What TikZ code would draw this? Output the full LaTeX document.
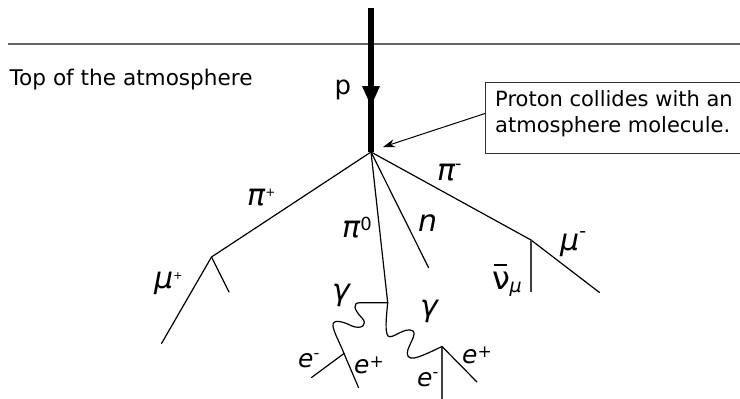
\documentclass[tikz,border=0pt]{standalone}
\usepackage{fontspec}
\setmainfont{DejaVu Sans}
\usetikzlibrary{arrows.meta}
\newcommand\upsc[3]{\raisebox{#1}{\fontsize{#2}{#2}\selectfont\upshape #3}}
\begin{document}
\begin{tikzpicture}[x=1pt,y=-1pt,
  track/.style={line width=1.2pt,line cap=round,line join=round},
  thin track/.style={line width=1.1pt,black!75},
  lbl/.style={inner sep=0pt,anchor=base west,font=\fontsize{30}{30}\selectfont\itshape},
  elab/.style={inner sep=0pt,anchor=base west,font=\fontsize{25}{25}\selectfont\itshape},
  txt/.style={inner sep=0pt,anchor=base west,font=\fontsize{21}{25}\selectfont}]
\useasboundingbox (0,0) rectangle (740,399);
% coordinates
\coordinate (hl) at (8,44);
\coordinate (hr) at (740,44);
\coordinate (ptop) at (371,8);
\coordinate (vtx) at (371,152);
\coordinate (vpp) at (211.5,257);
\coordinate (mup) at (161.5,343.5);
\coordinate (nup) at (229,292);
\coordinate (vp0) at (387.7,302.7);
\coordinate (nend) at (428.5,267.5);
\coordinate (vpm) at (531,240);
\coordinate (mum) at (599.5,292.5);
\coordinate (num) at (531,292);
\coordinate (gl) at (344,353.5);
\coordinate (gr) at (442,346.5);
\coordinate (elm) at (311.5,377.5);
\coordinate (elp) at (358.5,387.5);
\coordinate (erm) at (442,400);
\coordinate (erp) at (477,382);
\coordinate (hit) at (383,147);
% atmosphere line
\draw[line width=1.2pt,black!60] (hl) -- (hr);
\node[txt,font=\fontsize{21.6}{25}\selectfont] (top) at (9.5,85) {Top of the atmosphere};
% proton
\draw[line width=6.5pt] (ptop) -- (vtx);
\fill (362,86) -- (380,86) -- (371,106) -- cycle;
\node[inner sep=0pt,anchor=base west,font=\fontsize{26}{26}\selectfont] (p) at (334.5,94) {p};
% callout
\node[draw,line width=1pt,black!80,minimum width=258pt,minimum height=71pt,anchor=north west,inner sep=0pt] (box) at (485,82) {};
\node[txt] (t1) at (495,106.7) {Proton collides with an};
\node[txt] (t2) at (495,132.7) {atmosphere molecule.};
\draw[line width=1pt,-{Stealth[length=12pt,width=8pt]}] ([yshift=4.5pt]box.west) -- (hit);
% tracks
\draw[track] (vtx) -- (vpp) -- (mup);
\draw[track] (vpp) -- (nup);
\draw[track] (vtx) -- (vp0);
\draw[track] (vtx) -- (nend);
\draw[track] (vtx) -- (vpm) -- (mum);
\draw[thin track] (vpm) -- (num);
% photons
\draw[track] (vp0) -- (360,302.7) .. controls (352,302.7) and (354,310) .. (362,318)
  .. controls (368,324) and (362,330) .. (352,326)
  .. controls (344,322) and (332,318) .. (333,326)
  .. controls (334,333) and (340,343) .. (gl);
\draw[track] (vp0) .. controls (386,320) and (385,332) .. (388,336)
  .. controls (392,340) and (405,326) .. (413,331)
  .. controls (418,335) and (404,350) .. (408,356)
  .. controls (411,361) and (420,357) .. (gr);
% pairs
\draw[track] (gl) -- (elm);
\draw[track] (gl) -- (elp);
\draw[thin track] (gr) -- (erm);
\draw[track] (gr) -- (erp);
% labels
\node[lbl] (lpip) at (247,205) {π\upsc{8.5pt}{12}{+}};
\node[lbl] (lpi0) at (342,237.3) {π\upsc{7pt}{18}{0}};
\node[lbl] (ln) at (418,231.7) {n};
\node[lbl] (lpim) at (437,180) {π\upsc{11pt}{17}{-}};
\node[lbl] (lmup) at (154,288) {μ\upsc{9pt}{11}{+}};
\node[lbl] (lmum) at (560,250) {μ\upsc{13pt}{19}{-}};
\node[inner sep=0pt,anchor=base west,font=\fontsize{32}{32}\selectfont] (lnu) at (492,289.3)
  {\rlap{\hspace{1.5pt}\rule[23.5pt]{13pt}{1.5pt}}ν\hspace{-0.5pt}\raisebox{-3pt}{\fontsize{19}{19}\selectfont\itshape μ}};
\node[lbl] (lgl) at (332,300) {γ};
\node[lbl] (lgr) at (420,316.5) {γ};
\node[elab] (lelm) at (298,367) {e\upsc{9pt}{16}{-}};
\node[elab] (lelp) at (354,373) {e\upsc{6pt}{17}{+}};
\node[elab] (lerm) at (417,386.7) {e\upsc{9pt}{16}{-}};
\node[elab] (lerp) at (462,363.3) {e\upsc{6pt}{17}{+}};
\end{tikzpicture}
\end{document}
